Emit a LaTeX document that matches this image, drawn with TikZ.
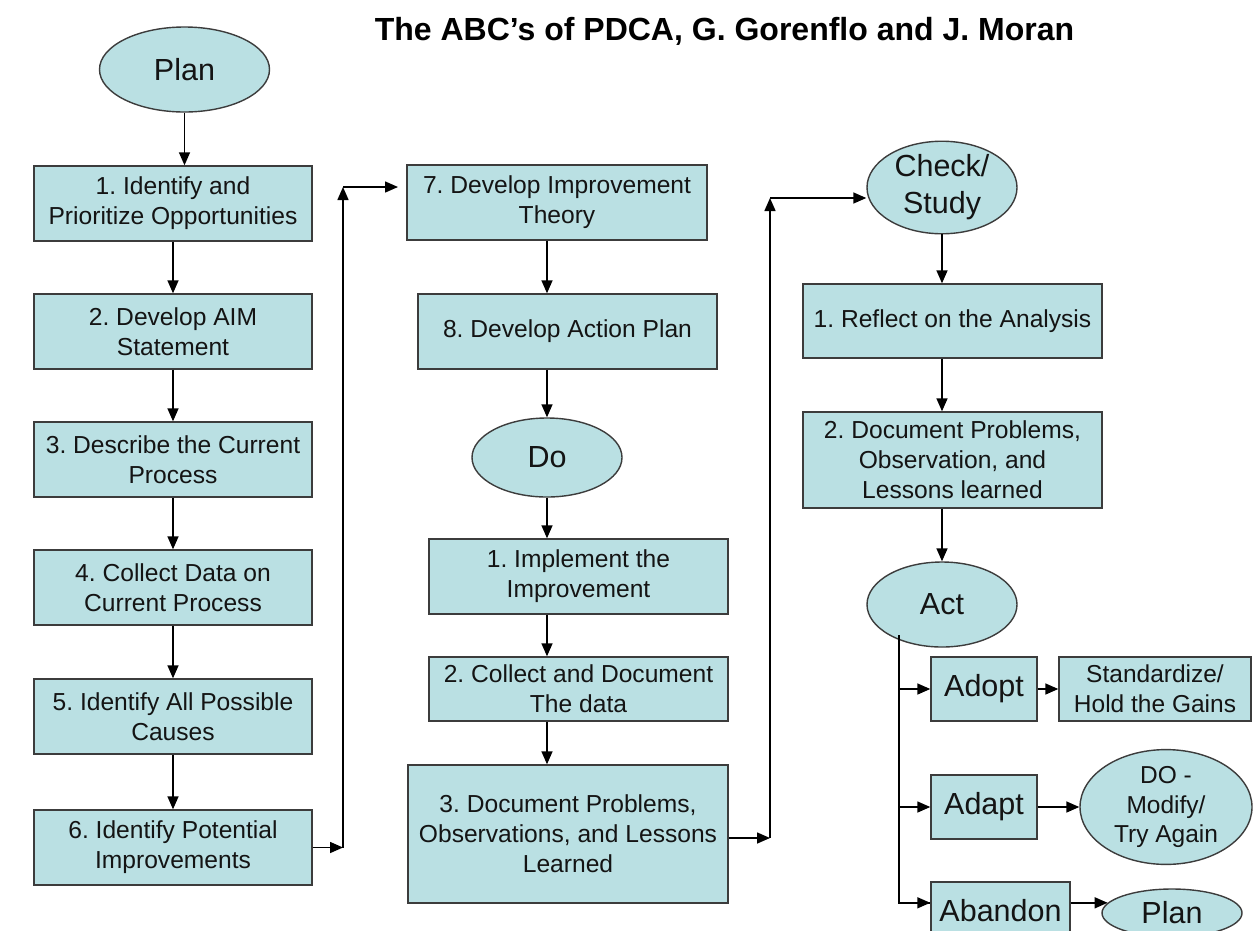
\documentclass[tikz,border=0pt]{standalone}
\usepackage{fontspec}
\setmainfont{Liberation Sans}
\usetikzlibrary{shapes.geometric,arrows.meta}
\definecolor{fillc}{RGB}{186,224,227}
\definecolor{bordc}{RGB}{60,60,60}
\definecolor{txtc}{RGB}{20,20,20}
\tikzset{
  box/.style={draw=bordc, fill=fillc, line width=1.4pt, rectangle, inner sep=0pt, align=center, text=txtc, font=\fontsize{24.6}{30}\selectfont},
  bigbox/.style={box, font=\fontsize{30.5}{37}\selectfont},
  oval/.style={draw=bordc, fill=fillc, line width=1.4pt, ellipse, inner sep=0pt, align=center, text=txtc, font=\fontsize{30.5}{37}\selectfont},
  smalloval/.style={oval, font=\fontsize{24.5}{29.5}\selectfont},
  arr/.style={draw=black, line width=1.5pt, -{Triangle[length=13pt,width=11pt]}},
  ln/.style={draw=black, line width=1.5pt},
}
\frenchspacing
\begin{document}
\begin{tikzpicture}[x=1pt,y=-1pt]
\useasboundingbox (0,0) rectangle (1258,930);
\fill[white] (0,0) rectangle (1258,930);

% title
\node[anchor=base, font=\fontsize{32}{38}\selectfont\bfseries] (title) at (724.5,40) {The ABC’s of PDCA, G. Gorenflo and J. Moran};

% Plan column
\node[oval, minimum width=170pt, minimum height=85pt] (plan) at (184.5,69.5) {Plan};
\node[box, minimum width=278pt, minimum height=75pt] (b1) at (173,203.5) {1. Identify and\\Prioritize Opportunities};
\node[box, minimum width=278pt, minimum height=75pt] (b2) at (173,331.5) {2. Develop AIM\\Statement};
\node[box, minimum width=278pt, minimum height=75pt] (b3) at (173,459.5) {3. Describe the Current\\Process};
\node[box, minimum width=278pt, minimum height=75pt] (b4) at (173,587.5) {4. Collect Data on\\Current Process};
\node[box, minimum width=278pt, minimum height=75pt] (b5) at (173,716.5) {5. Identify All Possible\\Causes};
\node[box, minimum width=278pt, minimum height=75pt] (b6) at (173,847.5) {6. Identify Potential\\Improvements};

\draw[arr] (plan.south) -- (plan.south |- b1.north);
\draw[arr] (b1.south) -- (b2.north);
\draw[arr] (b2.south) -- (b3.north);
\draw[arr] (b3.south) -- (b4.north);
\draw[arr] (b4.south) -- (b5.north);
\draw[arr] (b5.south) -- (b6.north);

% Do column
\node[box, minimum width=300pt, minimum height=75pt] (b7) at (557,202.5) {7. Develop Improvement\\Theory};
\node[box, minimum width=299pt, minimum height=75pt] (b8) at (567.5,331.5) {8. Develop Action Plan};
\node[oval, minimum width=150pt, minimum height=79pt] (do) at (547,457.5) {Do};
\node[box, minimum width=299pt, minimum height=75pt] (d1) at (578.5,576.5) {1. Implement the\\Improvement};
\node[box, minimum width=299pt, minimum height=64pt] (d2) at (578.5,689) {2. Collect and Document\\The data};
\node[box, minimum width=320pt, minimum height=138pt] (d3) at (568,834) {3. Document Problems,\\Observations, and Lessons\\Learned};

\coordinate (cx2) at (547,0);
\draw[arr] (b7.south -| cx2) -- (b8.north -| cx2);
\draw[arr] (b8.south -| cx2) -- (do.north -| cx2);
\draw[arr] (do.south -| cx2) -- (d1.north -| cx2);
\draw[arr] (d1.south -| cx2) -- (d2.north -| cx2);
\draw[arr] (d2.south -| cx2) -- (d3.north -| cx2);

% Check / Act column
\node[oval, minimum width=150pt, minimum height=85pt] (check) at (942,187.5) {Check/\\Study};
\node[box, minimum width=299pt, minimum height=74pt] (c1) at (952.5,321) {1. Reflect on the Analysis};
\node[box, minimum width=299pt, minimum height=96pt] (c2) at (952.5,460) {2. Document Problems,\\Observation, and\\Lessons learned};
\node[oval, minimum width=150pt, minimum height=85pt] (act) at (942,604.5) {Act};

\coordinate (cx3) at (942,0);
\draw[arr] (check.south -| cx3) -- (c1.north -| cx3);
\draw[arr] (c1.south -| cx3) -- (c2.north -| cx3);
\draw[arr] (c2.south -| cx3) -- (act.north -| cx3);

% Act branches
\node[bigbox, minimum width=106pt, minimum height=64pt] (adopt) at (984,689) {Adopt};
\node[box, font=\fontsize{24.5}{30}\selectfont, minimum width=192pt, minimum height=64pt] (std) at (1155,689) {Standardize/\\Hold the Gains};
\node[bigbox, minimum width=106pt, minimum height=64pt] (adapt) at (984,807) {Adapt};
\node[smalloval, minimum width=172pt, minimum height=98pt] (domod) at (1166,807) {DO -\\Modify/\\Try Again};
\node[bigbox, minimum width=139pt, minimum height=58pt] (abandon) at (1000.5,911) {Abandon};
\node[oval, minimum width=140pt, minimum height=48pt] (plan2) at (1172,913) {Plan};

\coordinate (av) at (899,635);
\coordinate (aby) at (plan2.171.1);
\draw[ln] (av) |- (abandon.west |- aby);
\draw[arr] (av |- aby) -- (abandon.west |- aby);
\draw[arr] (av |- adopt.west) -- (adopt.west);
\draw[arr] (av |- adapt.west) -- (adapt.west);
\draw[arr] (adopt.east) -- (std.west);
\draw[arr] (adapt.east) -- (domod.west);
\draw[arr] (abandon.east |- aby) -- (plan2.171.1);

% connectors between columns
\coordinate (j1) at (343,847.5);
\coordinate (j1t) at (343,187);
\coordinate (j1e) at (398,187);
\draw[arr] (b6.east) -- (j1);
\draw[arr] (j1) -- (j1t);
\draw[arr] (j1t) -- (j1e);

\coordinate (j2) at (770,838);
\coordinate (j2t) at (770,198);
\draw[arr] (d3.east |- j2) -- (j2);
\draw[arr] (j2) -- (j2t);
\draw[arr] (j2t) -- (check.west |- j2t);
\end{tikzpicture}
\end{document}
